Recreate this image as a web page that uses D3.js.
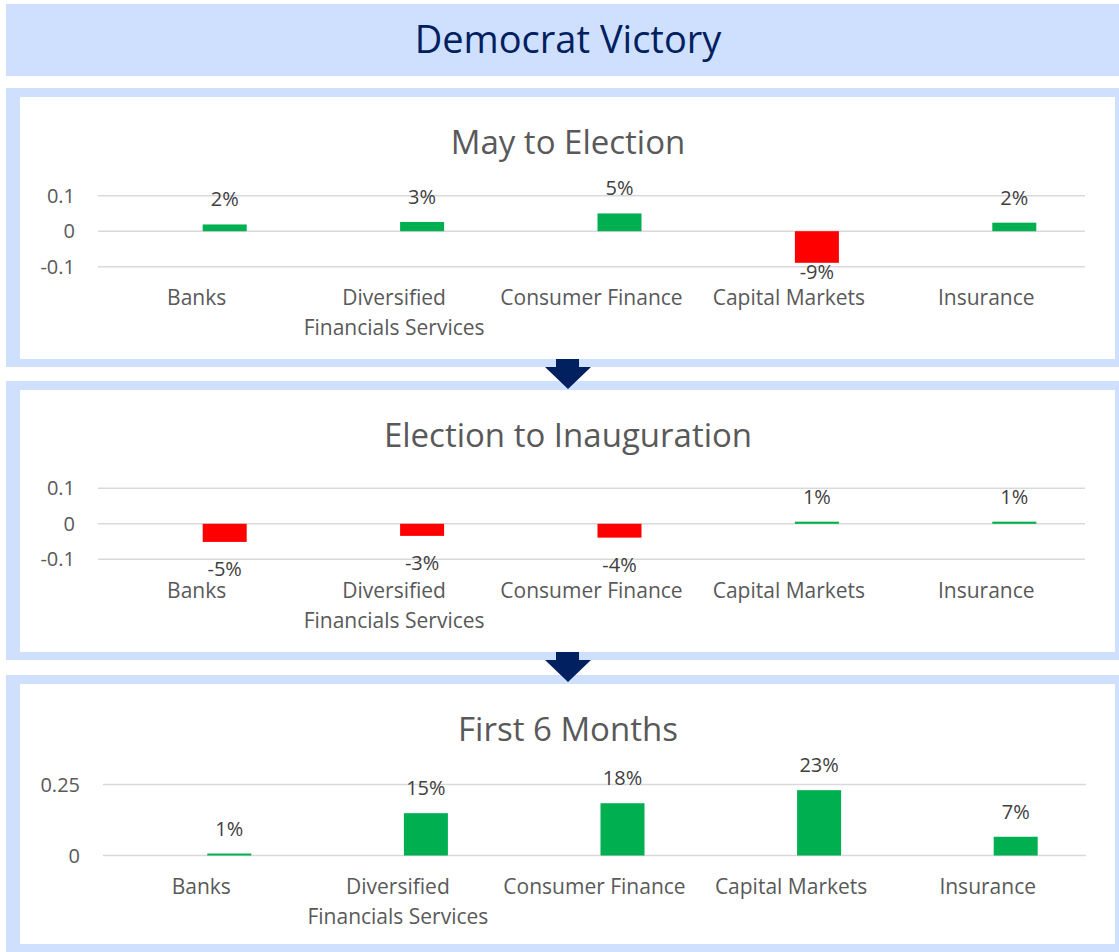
<!DOCTYPE html>
<html>
<head>
<meta charset="utf-8">
<script src="https://cdn.jsdelivr.net/npm/d3@7"></script>
<style>
  body { margin: 0; background: #fff; }
  svg { display: block; font-family: "Open Sans", Lato, sans-serif; }
</style>
</head>
<body>
<script>
// data
const categories = ["Banks", "Diversified Financials Services", "Consumer Finance", "Capital Markets", "Insurance"];
const mayToElection = [0.019, 0.026, 0.05, -0.089, 0.024];
const electionToInauguration = [-0.051, -0.034, -0.039, 0.006, 0.006];
const firstSixMonths = [0.007, 0.149, 0.184, 0.23, 0.066];
const ticksSmall = [-0.1, 0, 0.1];
const ticksLarge = [0, 0.25];

const mainTitle = "Democrat Victory";
const panelTitles = ["May to Election", "Election to Inauguration", "First 6 Months"];

const W = 1119, H = 952;
const borderColor = "#CFDFFE";
const navy = "#002060";

const svg = d3.select("body").append("svg")
    .attr("width", W)
    .attr("height", H);

// title band
svg.append("rect")
    .attr("x", 6).attr("y", 4)
    .attr("width", W - 6).attr("height", 72)
    .attr("fill", borderColor);
svg.append("text")
    .attr("x", 568).attr("y", 40)
    .attr("dy", "0.35em")
    .attr("text-anchor", "middle")
    .attr("fill", navy)
    .style("font-size", "38px")
    .text(mainTitle);

const panels = [
    { title: panelTitles[0], values: mayToElection, domain: [-0.1, 0.1], ticks: ticksSmall,
      top: 88, bottom: 367, plotTop: 195.7, plotBottom: 266.7, x0: 98, x1: 1085, clamp: true },
    { title: panelTitles[1], values: electionToInauguration, domain: [-0.1, 0.1], ticks: ticksSmall,
      top: 381, bottom: 660, plotTop: 488.3, plotBottom: 559.3, x0: 98, x1: 1085, clamp: false },
    { title: panelTitles[2], values: firstSixMonths, domain: [0, 0.25], ticks: ticksLarge,
      top: 675, bottom: 952, plotTop: 784.5, plotBottom: 855.5, x0: 103, x1: 1086, clamp: false }
];

// Excel style uses a plain hyphen for negatives
const tickFmt = v => String(v);
const pct = v => d3.format(".0%")(v).replace("\u2212", "-");

panels.forEach(p => {
    // frame
    svg.append("rect")
        .attr("x", 6).attr("y", p.top)
        .attr("width", W - 6).attr("height", p.bottom - p.top)
        .attr("fill", borderColor);
    svg.append("rect")
        .attr("x", 20).attr("y", p.top + 9)
        .attr("width", 1115 - 20).attr("height", p.bottom - p.top - 17)
        .attr("fill", "#fff");

    svg.append("text")
        .attr("x", 568).attr("y", p.top + 54)
        .attr("dy", "0.35em")
        .attr("text-anchor", "middle")
        .attr("fill", "#595959")
        .style("font-size", "33px")
        .text(p.title);

    const x = d3.scaleBand().domain(categories).range([p.x0, p.x1]);
    const y = d3.scaleLinear().domain(p.domain).range([p.plotBottom, p.plotTop]);

    const g = svg.append("g");

    // gridlines
    g.selectAll(".grid")
        .data(p.ticks)
        .enter()
        .append("line")
        .attr("x1", p.x0).attr("x2", p.x1)
        .attr("y1", d => y(d)).attr("y2", d => y(d))
        .style("stroke", "#D9D9D9")
        .style("stroke-width", 1.5);

    // y tick labels
    g.selectAll(".ytick")
        .data(p.ticks)
        .enter()
        .append("text")
        .attr("x", p.x0 - 23)
        .attr("y", d => y(d))
        .attr("dy", "0.35em")
        .attr("text-anchor", "end")
        .attr("fill", "#595959")
        .style("font-size", "20px")
        .text(tickFmt);

    const rows = categories.map((c, i) => ({ cat: c, v: p.values[i] }));
    const barW = 44, barOff = 6;

    g.selectAll(".bar")
        .data(rows)
        .enter()
        .append("rect")
        .attr("x", d => x(d.cat) + x.bandwidth() / 2 + barOff)
        .attr("y", d => y(Math.max(0, d.v)))
        .attr("width", barW)
        .attr("height", d => Math.max(1.5, Math.abs(y(d.v) - y(0))))
        .attr("fill", d => d.v >= 0 ? "#00B050" : "#FF0000");

    // value labels
    g.selectAll(".val")
        .data(rows)
        .enter()
        .append("text")
        .attr("x", d => x(d.cat) + x.bandwidth() / 2 + barOff + barW / 2)
        .attr("y", d => {
            if (d.v >= 0) return y(d.v) - 25;
            const yy = y(d.v) + 27;
            return p.clamp ? Math.min(yy, p.plotBottom + 5) : yy;
        })
        .attr("dy", "0.35em")
        .attr("text-anchor", "middle")
        .attr("fill", "#404040")
        .style("font-size", "20px")
        .text(d => pct(d.v));

    // category labels, wrapped like the reference
    const wrap = c => c === "Diversified Financials Services" ? ["Diversified", "Financials Services"] : [c];
    g.selectAll(".cat")
        .data(categories)
        .enter()
        .append("text")
        .attr("x", d => x(d) + x.bandwidth() / 2)
        .attr("y", p.plotBottom + 31)
        .attr("text-anchor", "middle")
        .attr("fill", "#595959")
        .style("font-size", "21px")
        .each(function (d) {
            d3.select(this).selectAll("tspan")
                .data(wrap(d))
                .enter()
                .append("tspan")
                .attr("x", x(d) + x.bandwidth() / 2)
                .attr("dy", (t, i) => i === 0 ? "0.35em" : "30px")
                .text(t => t);
        });
});

// connecting arrows between panels
[359, 652].forEach(ty => {
    const cx = 568;
    svg.append("path")
        .attr("d", `M${cx - 12},${ty} L${cx + 11},${ty} L${cx + 11},${ty + 8} L${cx + 23},${ty + 8} L${cx},${ty + 30} L${cx - 23},${ty + 8} L${cx - 12},${ty + 8} Z`)
        .attr("fill", navy);
});
</script>
</body>
</html>
